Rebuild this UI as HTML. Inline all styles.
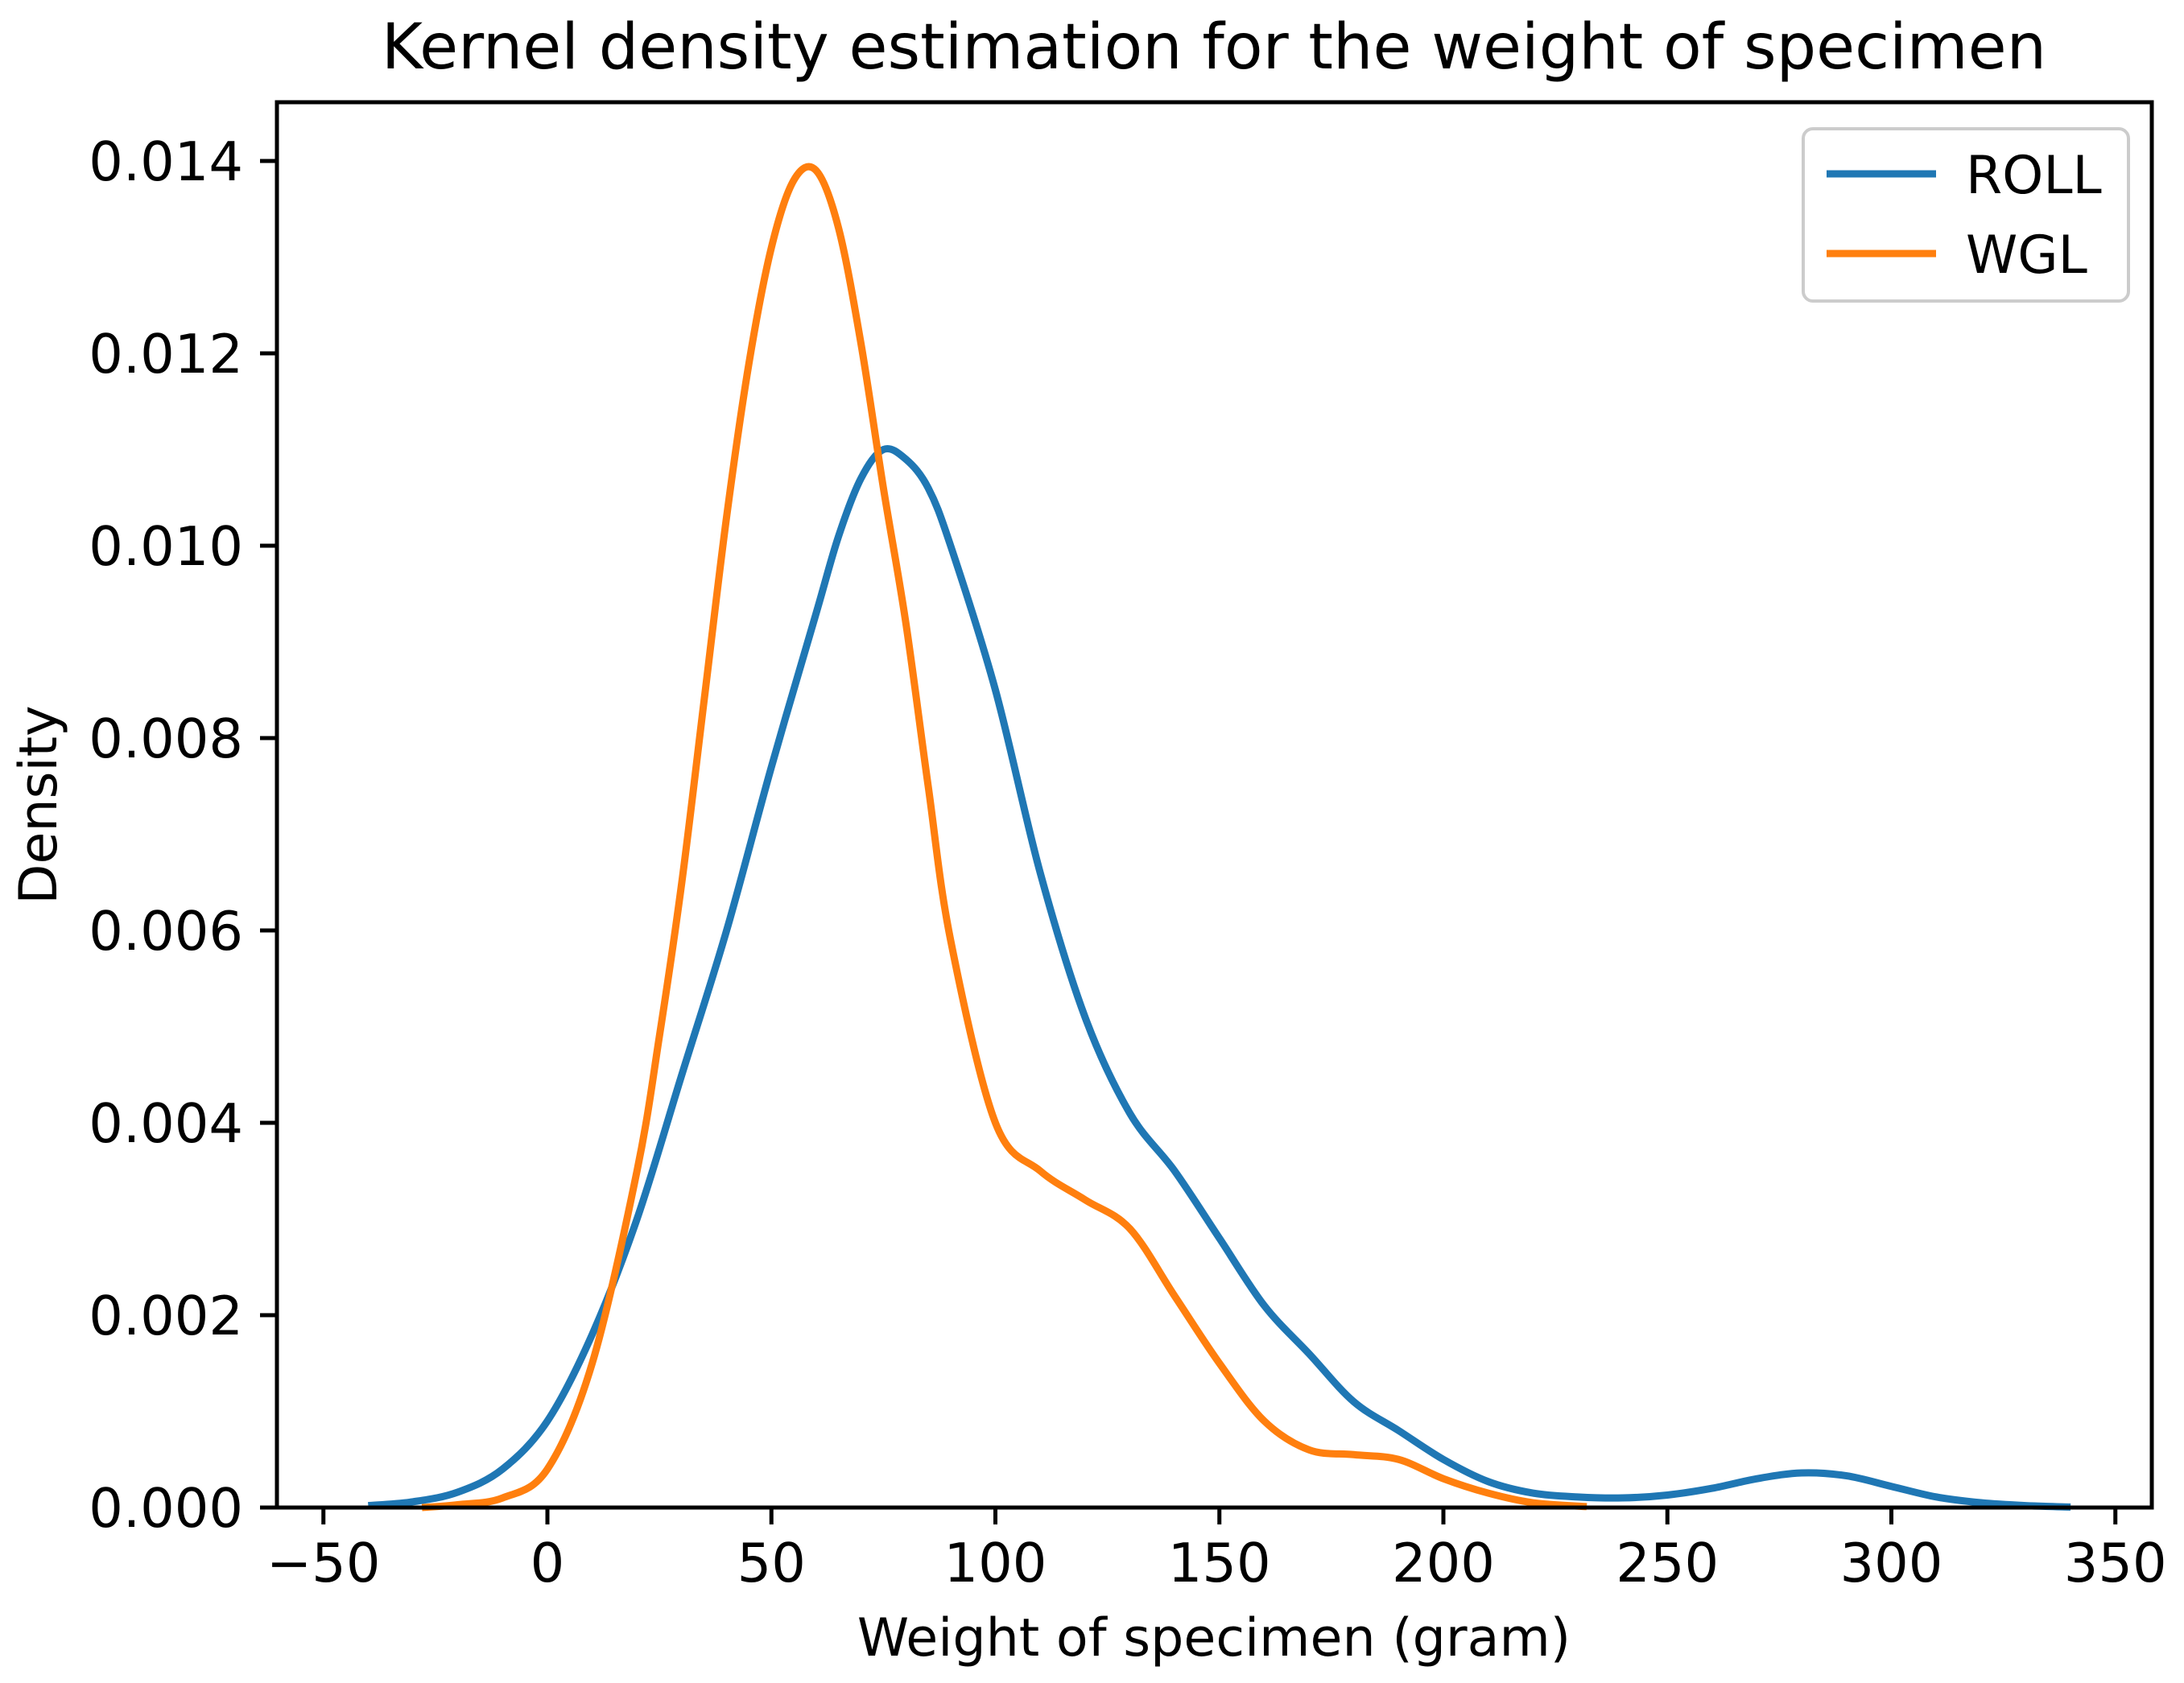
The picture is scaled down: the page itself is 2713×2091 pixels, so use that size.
<!DOCTYPE html>
<html><head><meta charset="utf-8">
<style>
html,body{margin:0;padding:0;background:#fff;}
svg{display:block;}
text{font-family:"DejaVu Sans","Liberation Sans",sans-serif;fill:#000;}
</style></head>
<body>
<svg id="chart" width="2713" height="2091" viewBox="0 0 2713 2091" xmlns="http://www.w3.org/2000/svg">
<rect width="2713" height="2091" fill="#fff"/>
<text x="1508" y="85" font-size="78" text-anchor="middle">Kernel density estimation for the weight of specimen</text>
<g id="plot"></g>
<g id="axes"></g>
<text x="1508" y="2057" font-size="65" text-anchor="middle">Weight of specimen (gram)</text>
<text x="0" y="0" font-size="65" text-anchor="middle" transform="translate(70,1000) rotate(-90)">Density</text>
<g>
<rect x="2240" y="160" width="404" height="214" rx="12" fill="#fff" fill-opacity="0.8" stroke="#ccc" stroke-width="4"/>
<line x1="2269" y1="216" x2="2405" y2="216" stroke="#1f77b4" stroke-width="9"/>
<text x="2442" y="240" font-size="65">ROLL</text>
<line x1="2269" y1="315" x2="2405" y2="315" stroke="#ff7f0e" stroke-width="9"/>
<text x="2442" y="339" font-size="65">WGL</text>
</g>
</svg>
<script>
const rollX = [-40,-30,-20,-10,0,10,20,30,40,50,60,65,70,75,80,85,90,100,110,120,130,140,150,160,170,180,190,200,210,220,230,240,250,260,270,280,290,300,310,320,330,340];
const rollY = [0.00002,0.00006,0.00016,0.0004,0.0009,0.0018,0.0030,0.0045,0.0060,0.0077,0.0093,0.0101,0.0107,0.0110,0.0109,0.0106,0.0100,0.0085,0.0066,0.0051,0.0041,0.0035,0.0028,0.0021,0.0016,0.0011,0.0008,0.0005,0.00027,0.00015,0.00011,0.0001,0.00013,0.0002,0.0003,0.00036,0.00033,0.00022,0.00011,0.00005,0.00002,0.000005];
const wglX = [-28,-20,-10,0,10,20,25,30,35,40,45,50,55,60,65,70,75,80,85,90,100,110,120,130,140,150,160,170,180,190,200,210,220,232];
const wglY = [0,0.00003,0.0001,0.0004,0.0015,0.0035,0.0049,0.0065,0.0084,0.0103,0.0119,0.0131,0.0138,0.0139,0.0133,0.0121,0.0106,0.0092,0.0075,0.0059,0.0040,0.0035,0.0032,0.0029,0.0022,0.0015,0.0009,0.0006,0.00055,0.0005,0.0003,0.00015,0.00005,0.00001];
const xTicks = [-50,0,50,100,150,200,250,300,350];
const xTickLabels = ["\u221250","0","50","100","150","200","250","300","350"];
const yTicks = [0,0.002,0.004,0.006,0.008,0.010,0.012,0.014];
const yTickLabels = ["0.000","0.002","0.004","0.006","0.008","0.010","0.012","0.014"];

const L=344,R=2673,T=127,B=1873;
const xs = v => 680 + v*5.565;
const ys = v => B - v*119500;
const NS="http://www.w3.org/2000/svg";
const plot=document.getElementById('plot'), axes=document.getElementById('axes');

function pathFor(X,Y){
  const p=X.map((x,i)=>[xs(x),ys(Y[i])]);
  let d=`M${p[0][0]},${p[0][1]}`;
  for(let i=0;i<p.length-1;i++){
    const p0=p[Math.max(0,i-1)],p1=p[i],p2=p[i+1],p3=p[Math.min(p.length-1,i+2)];
    const c1=[p1[0]+(p2[0]-p0[0])/6,p1[1]+(p2[1]-p0[1])/6];
    const c2=[p2[0]-(p3[0]-p1[0])/6,p2[1]-(p3[1]-p1[1])/6];
    d+=` C${c1[0]},${c1[1]} ${c2[0]},${c2[1]} ${p2[0]},${p2[1]}`;
  }
  return d;
}
const roll=document.createElementNS(NS,'path');
roll.setAttribute('d',pathFor(rollX,rollY));
roll.setAttribute('fill','none');roll.setAttribute('stroke','#1f77b4');roll.setAttribute('stroke-width','9');


plot.appendChild(roll);
const wgl=document.createElementNS(NS,'path');
wgl.setAttribute('d',pathFor(wglX,wglY));
wgl.setAttribute('fill','none');wgl.setAttribute('stroke','#ff7f0e');wgl.setAttribute('stroke-width','9');


plot.appendChild(wgl);

const frame=document.createElementNS(NS,'rect');
frame.setAttribute('x',L);frame.setAttribute('y',T);frame.setAttribute('width',R-L);frame.setAttribute('height',B-T);
frame.setAttribute('fill','none');frame.setAttribute('stroke','#000');frame.setAttribute('stroke-width','5');


axes.appendChild(frame);

xTicks.forEach((v,i)=>{
  const x=xs(v);
  const t=document.createElementNS(NS,'line');
  t.setAttribute('x1',x);t.setAttribute('x2',x);t.setAttribute('y1',B);t.setAttribute('y2',B+21);
  t.setAttribute('stroke','#000');t.setAttribute('stroke-width','5');
  
  
  axes.appendChild(t);
  const l=document.createElementNS(NS,'text');
  l.setAttribute('x',x);l.setAttribute('y',B+92);l.setAttribute('font-size','67');l.setAttribute('text-anchor','middle');
  l.textContent=xTickLabels[i];
  
  
  axes.appendChild(l);
});
yTicks.forEach((v,i)=>{
  const y=ys(v);
  const t=document.createElementNS(NS,'line');
  t.setAttribute('x1',L-21);t.setAttribute('x2',L);t.setAttribute('y1',y);t.setAttribute('y2',y);
  t.setAttribute('stroke','#000');t.setAttribute('stroke-width','5');
  
  
  axes.appendChild(t);
  const l=document.createElementNS(NS,'text');
  l.setAttribute('x',L-42);l.setAttribute('y',y+24);l.setAttribute('font-size','67');l.setAttribute('text-anchor','end');
  l.textContent=yTickLabels[i];
  
  
  axes.appendChild(l);
});
</script>
</body></html>
